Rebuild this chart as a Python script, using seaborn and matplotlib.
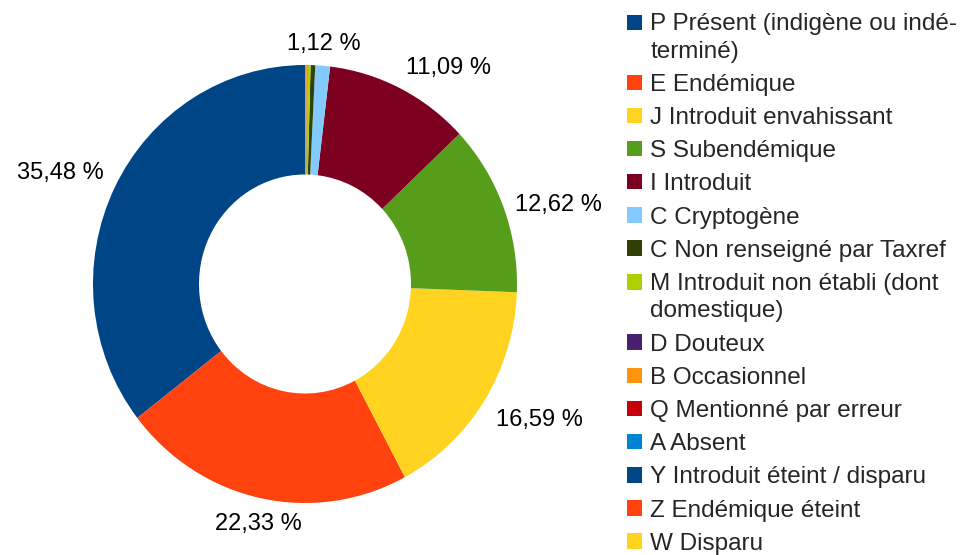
import numpy as np
import matplotlib
matplotlib.use("Agg")
import matplotlib.pyplot as plt
import seaborn as sns
from matplotlib.patches import Patch, Rectangle
from matplotlib.legend_handler import HandlerPatch

# Statut des taxons (ordre de la légende)
categories = [
    "P Présent (indigène ou indé-\nterminé)",
    "E Endémique",
    "J Introduit envahissant",
    "S Subendémique",
    "I Introduit",
    "C Cryptogène",
    "C Non renseigné par Taxref",
    "M Introduit non établi (dont\ndomestique)",
    "D Douteux",
    "B Occasionnel",
    "Q Mentionné par erreur",
    "A Absent",
    "Y Introduit éteint / disparu",
    "Z Endémique éteint",
    "W Disparu",
]
shares = [35.48, 22.33, 16.59, 12.62, 11.09, 1.12,
          0.35, 0.25, 0.03, 0.10, 0.01, 0.01, 0.01, 0.005, 0.005]
colors = ["#004586", "#ff420e", "#ffd320", "#579d1c", "#7e0021", "#83caff",
          "#314004", "#aecf00", "#4b1f6f", "#ff950e", "#c5000b", "#0084d1",
          "#004586", "#ff420e", "#ffd320"]

sns.set_theme(style="white")
plt.rcParams["font.family"] = ["Liberation Sans", "DejaVu Sans"]
palette = sns.color_palette(colors)
FS = 17
LFS = 17.5
LSP = 1.33   # interligne des libellés sur deux lignes

W, H = 968, 555
fig = plt.figure(figsize=(W / 100, H / 100), dpi=100)
cx, cy, rx, ry = 305, 271, 212, 219   # cy measured from bottom
ax = fig.add_axes([(cx - rx) / W, (cy - ry) / H, 2 * rx / W, 2 * ry / H])

wedges, _ = ax.pie(shares, colors=palette, startangle=90, counterclock=True,
                   radius=1.0, wedgeprops=dict(width=0.5, linewidth=0))
ax.set_xlim(-1, 1)
ax.set_ylim(-1, 1)
ax.set_aspect("auto")
ax.axis("off")

# étiquettes de pourcentage pour les parts >= 1 %
total = sum(shares)
for w, v in zip(wedges, shares):
    if v < 1:
        continue
    ang = np.deg2rad((w.theta1 + w.theta2) / 2)
    c, s = np.cos(ang), np.sin(ang)
    d = 1.06
    ha = "center" if abs(c) < 0.3 else ("left" if c > 0 else "right")
    va = "center" if abs(s) < 0.4 else ("bottom" if s > 0 else "top")
    txt = f"{v / total * 100:.2f} %".replace(".", ",")
    ax.text(d * c, d * s - 0.01, txt, ha=ha, va=va, fontsize=FS, color="black",
            clip_on=False)


# carré de légende aligné sur la première ligne du libellé
def first_line_patch(shift):
    def make(legend, orig_handle, xdescent, ydescent, width, height, fontsize):
        return Rectangle((-xdescent, -ydescent + shift), width, height)
    return HandlerPatch(patch_func=make)


handles = [Patch(facecolor=col, edgecolor="none") for col in palette]
hmap = {}
for h, lab in zip(handles, categories):
    if "\n" in lab:
        hmap[h] = first_line_patch(15.5 * 72 / 100)

leg = fig.legend(handles, categories, loc="upper left", handler_map=hmap,
                 bbox_to_anchor=(627 / W, 1 - 13 / H), frameon=False,
                 fontsize=LFS, handlelength=0.6, handleheight=0.6,
                 handletextpad=0.36, labelspacing=0.46, borderpad=0,
                 borderaxespad=0)
for t in leg.get_texts():
    t.set_linespacing(LSP)

fig.savefig("out.png", dpi=100, facecolor="white")
